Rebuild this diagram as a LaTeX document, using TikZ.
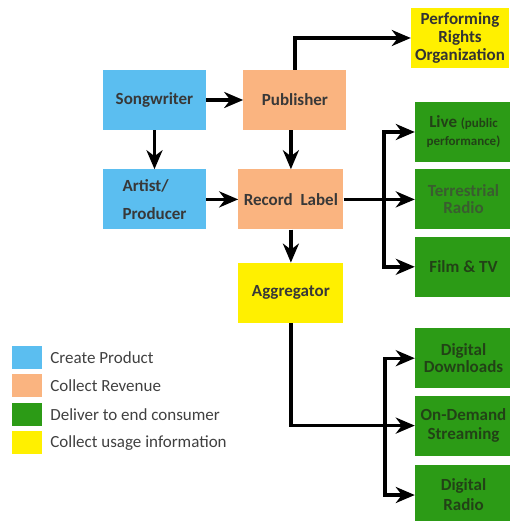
\documentclass[tikz,border=0pt]{standalone}
\usepackage{fontspec}
\setmainfont{Carlito}
\usepackage{tikz}
\usetikzlibrary{arrows.meta,positioning}
\definecolor{create}{RGB}{91,190,240}
\definecolor{revenue}{RGB}{250,180,128}
\definecolor{deliver}{RGB}{44,155,22}
\definecolor{usage}{RGB}{255,240,0}
\definecolor{darkgreen}{RGB}{34,66,22}
\definecolor{fadedgreen}{RGB}{58,92,48}
\newcommand\smalltext{\fontsize{13}{15}\selectfont}
\tikzset{
    box/.style={rectangle, minimum width=103pt, minimum height=60pt, inner sep=1pt,
        align=center, text=black!78, font=\fontsize{17}{18}\selectfont\bfseries},
    outlet/.style={box, fill=deliver, minimum width=97pt, text=darkgreen},
    arr/.style={line width=3.4pt, -{Stealth[length=19pt,width=16pt,inset=6pt]}},
    key/.style={rectangle, minimum width=30pt, minimum height=23pt, inner sep=0pt},
    keytext/.style={right=8pt of #1, inner sep=0pt, anchor=west, text=black!75,
        font=\fontsize{17}{18}\selectfont},
}

\begin{document}
\begin{tikzpicture}[x=1pt, y=-1pt]
    \useasboundingbox (0,0) rectangle (510,521);
    \node[box, fill=create] (song) at (154.5,100) {Songwriter};
    \node[box, fill=revenue, right=37pt of song] (pub) {Publisher};
    \node[box, fill=create, below=39pt of song, align=left] (artist) {Artist/\\[10pt]Producer};
    \node[box, fill=revenue, right=32pt of artist, minimum width=105pt] (label) {Record~~Label};
    \node[box, fill=usage, below=33pt of label, minimum width=105pt] (agg) {Aggregator};
    \node[box, fill=usage, minimum width=98pt, text=black!80] (pro) at (460,38) {Performing\\Rights\\Organization};

    \node[outlet] (live) at (463.5,132) {Live {\smalltext(public}\\{\smalltext performance)}};
    \node[outlet, below=7pt of live, text=fadedgreen] (terr) {Terrestrial\\[-1pt]Radio};
    \node[outlet, below=7pt of terr] (film) {Film \& TV};
    \node[outlet, below=31pt of film] (dl) {Digital\\[-1pt]Downloads};
    \node[outlet, below=7pt of dl] (ond) {On-Demand\\[1pt]Streaming};
    \node[outlet, below=9pt of ond] (radio) {Digital\\[2pt]Radio};

    \node[key, fill=create] (k1) at (27,357.5) {};
    \node[key, fill=revenue, below=5pt of k1] (k2) {};
    \node[key, fill=deliver, below=5pt of k2] (k3) {};
    \node[key, fill=usage, below=5pt of k3] (k4) {};
    \node[keytext=k1] (t1) {Create Product};
    \node[keytext=k2] (t2) {Collect Revenue};
    \node[keytext=k3] (t3) {Deliver to end consumer};
    \node[keytext=k4] (t4) {Collect usage information};

    \coordinate (busA) at (384,199);
    \coordinate (busB) at (385,424);

    \draw[arr] (song) -- (pub);
    \draw[arr] (song) -- (artist);
    \draw[arr] (artist) -- (label);
    \draw[arr] (pub) |- (pro);
    \draw[arr] (label.north |- pub.south) -- (label.north);
    \draw[arr] (label) -- (agg);
    \draw[arr] (label) -- (terr);
    \draw[arr] (busA) |- (live);
    \draw[arr] (busA) |- (film);
    \draw[arr] (agg) |- (ond);
    \draw[arr] (busB) |- (dl);
    \draw[arr] (busB) |- (radio);
\end{tikzpicture}
\end{document}
